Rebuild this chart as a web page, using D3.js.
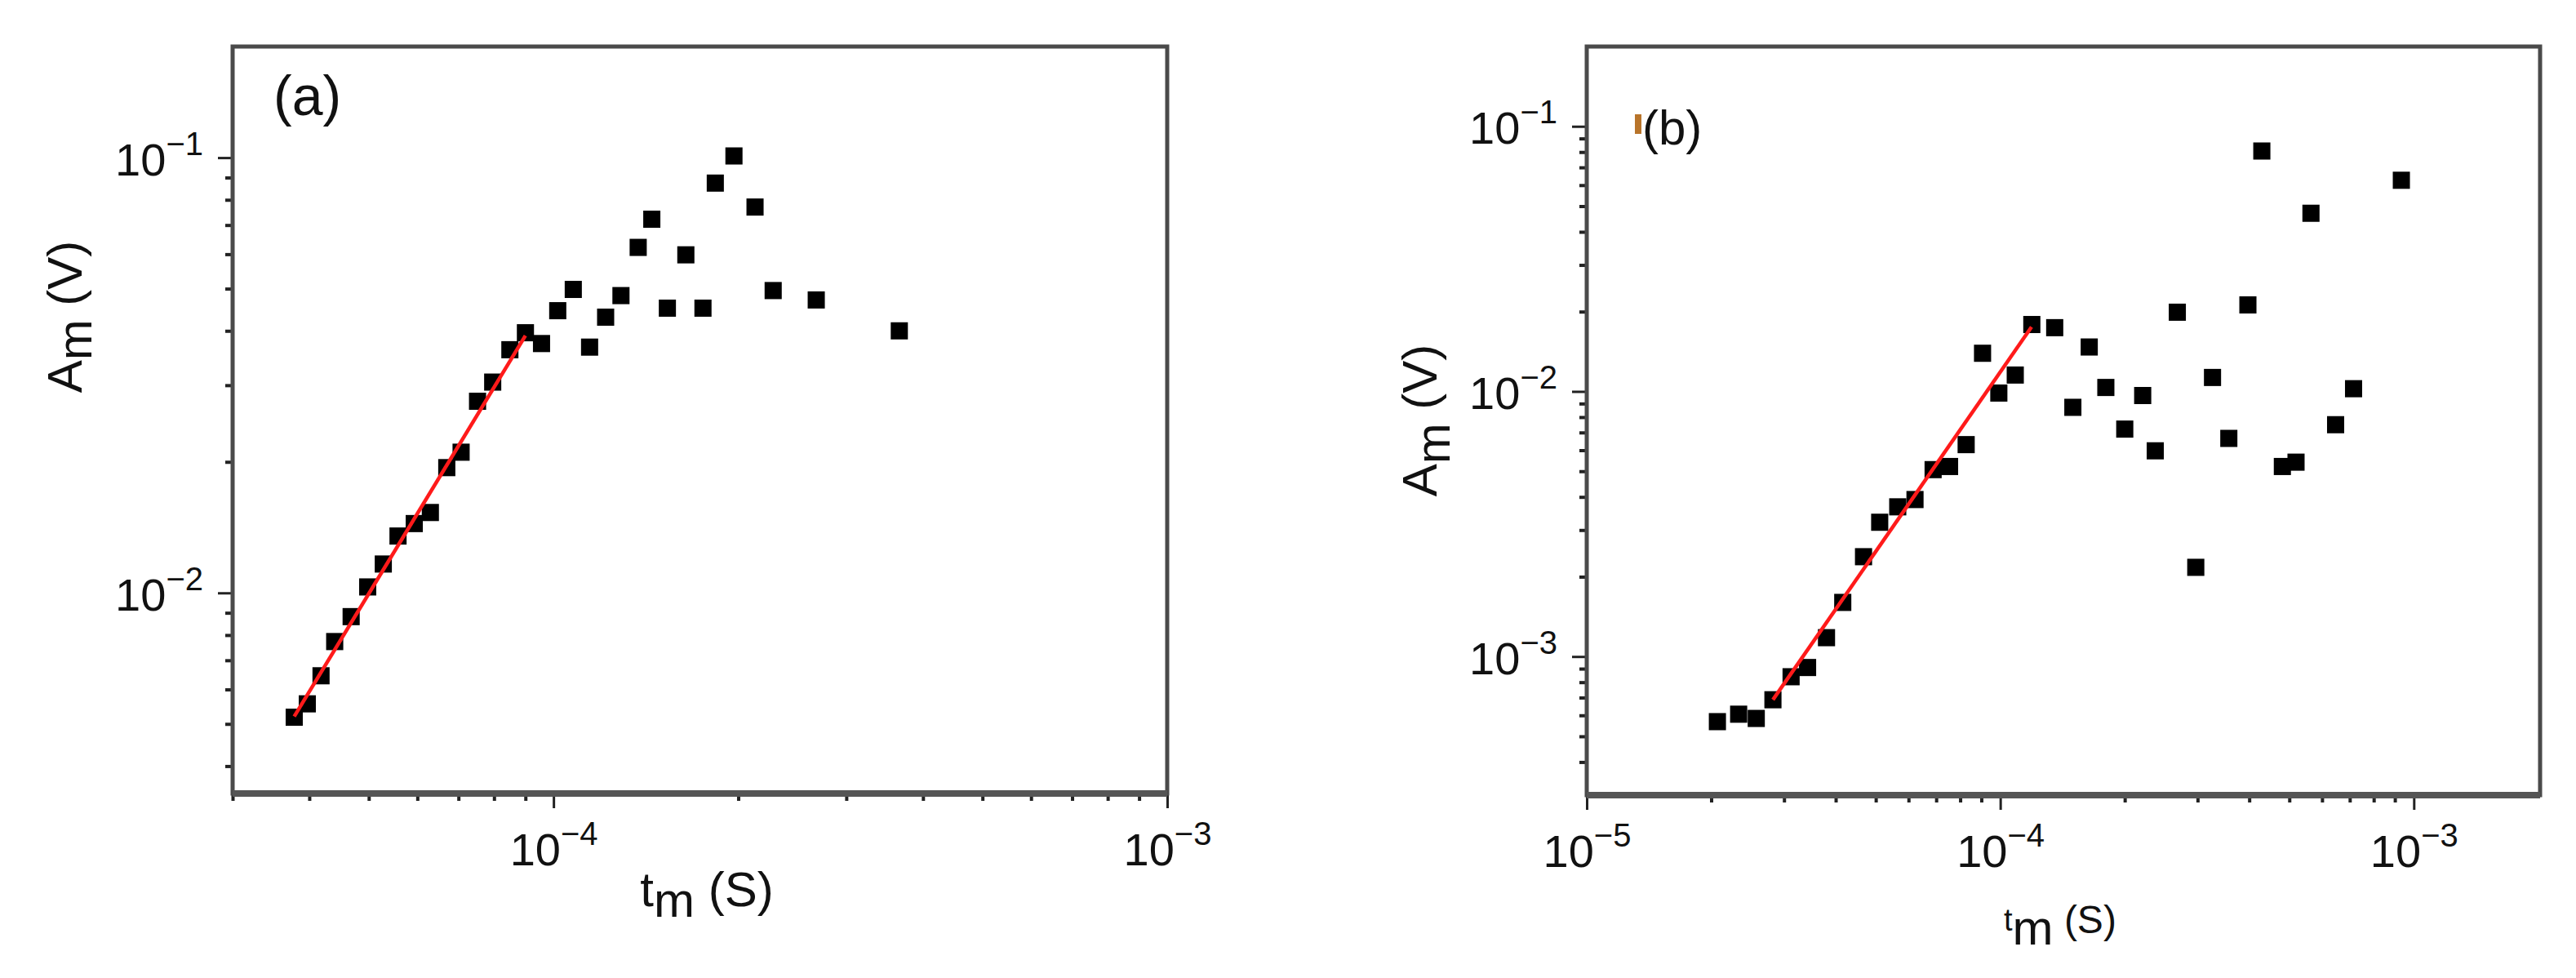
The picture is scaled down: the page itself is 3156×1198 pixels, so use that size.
<!DOCTYPE html>
<html>
<head>
<meta charset="utf-8">
<script src="https://cdn.jsdelivr.net/npm/d3@7"></script>
<style>
	body { margin: 0; background: #fff; }
	svg { display: block; }
	text { font-family: "Liberation Sans", Arial, sans-serif; fill: #111; }
</style>
</head>
<body>
<svg id="chart" width="3156" height="1198"></svg>
<script>
// panel (a)
const tmA = [3.78e-5, 3.97e-5, 4.18e-5, 4.40e-5, 4.68e-5, 4.98e-5, 5.28e-5, 5.58e-5, 5.93e-5, 6.30e-5, 6.70e-5,
	7.07e-5, 7.52e-5, 7.96e-5, 8.49e-5, 9.00e-5, 9.56e-5, 1.016e-4, 1.077e-4, 1.145e-4, 1.216e-4, 1.288e-4,
	1.374e-4, 1.446e-4, 1.533e-4, 1.643e-4, 1.752e-4, 1.835e-4, 1.968e-4, 2.13e-4, 2.28e-4, 2.68e-4, 3.66e-4];
const amA = [5.18e-3, 5.56e-3, 6.45e-3, 7.73e-3, 8.82e-3, 1.032e-2, 1.165e-2, 1.351e-2, 1.443e-2, 1.53e-2, 1.94e-2,
	2.105e-2, 2.756e-2, 3.05e-2, 3.62e-2, 3.96e-2, 3.74e-2, 4.45e-2, 4.98e-2, 3.67e-2, 4.3e-2, 4.82e-2,
	6.22e-2, 7.22e-2, 4.51e-2, 5.98e-2, 4.51e-2, 8.74e-2, 0.1009, 7.7e-2, 4.95e-2, 4.71e-2, 4.0e-2];
const fitTmA = [3.78e-5, 9.0e-5];
const fitAmA = [5.2e-3, 3.9e-2];

// panel (b)
const tmB = [2.07e-5, 2.33e-5, 2.57e-5, 2.82e-5, 3.12e-5, 3.42e-5, 3.80e-5, 4.16e-5, 4.67e-5, 5.11e-5, 5.65e-5,
	6.22e-5, 6.88e-5, 7.54e-5, 8.27e-5, 9.06e-5, 9.92e-5, 1.087e-4, 1.192e-4, 1.354e-4, 1.498e-4, 1.641e-4,
	1.80e-4, 2.00e-4, 2.21e-4, 2.37e-4, 2.68e-4, 2.97e-4, 3.26e-4, 3.57e-4, 3.97e-4, 4.29e-4, 4.81e-4,
	5.19e-4, 5.64e-4, 6.47e-4, 7.15e-4, 9.33e-4];
const amB = [5.68e-4, 6.06e-4, 5.84e-4, 6.87e-4, 8.39e-4, 9.09e-4, 1.178e-3, 1.6e-3, 2.38e-3, 3.21e-3, 3.67e-3,
	3.91e-3, 5.07e-3, 5.21e-3, 6.3e-3, 1.393e-2, 9.86e-3, 1.153e-2, 1.788e-2, 1.74e-2, 8.71e-3, 1.471e-2,
	1.035e-2, 7.21e-3, 9.65e-3, 5.97e-3, 1.99e-2, 2.17e-3, 1.129e-2, 6.65e-3, 2.12e-2, 8.07e-2, 5.21e-3,
	5.41e-3, 4.7e-2, 7.49e-3, 1.024e-2, 6.26e-2];
const fitTmB = [2.82e-5, 1.19e-4];
const fitAmB = [6.87e-4, 1.75e-2];

// ticks
const xMajorA = [1e-4, 1e-3];
const xLabelsA = ["\u22124", "\u22123"];
const xMinorA = [3e-5, 4e-5, 5e-5, 6e-5, 7e-5, 8e-5, 9e-5, 2e-4, 3e-4, 4e-4, 5e-4, 6e-4, 7e-4, 8e-4, 9e-4];
const yMajorA = [1e-2, 1e-1];
const yLabelsA = ["\u22122", "\u22121"];
const yMinorA = [4e-3, 5e-3, 6e-3, 7e-3, 8e-3, 9e-3, 2e-2, 3e-2, 4e-2, 5e-2, 6e-2, 7e-2, 8e-2, 9e-2];

const xMajorB = [1e-5, 1e-4, 1e-3];
const xLabelsB = ["\u22125", "\u22124", "\u22123"];
const xMinorB = [2e-5, 3e-5, 4e-5, 5e-5, 6e-5, 7e-5, 8e-5, 9e-5, 2e-4, 3e-4, 4e-4, 5e-4, 6e-4, 7e-4, 8e-4, 9e-4];
const yMajorB = [1e-3, 1e-2, 1e-1];
const yLabelsB = ["\u22123", "\u22122", "\u22121"];
const yMinorB = [4e-4, 5e-4, 6e-4, 7e-4, 8e-4, 9e-4, 2e-3, 3e-3, 4e-3, 5e-3, 6e-3, 7e-3, 8e-3, 9e-3,
	2e-2, 3e-2, 4e-2, 5e-2, 6e-2, 7e-2, 8e-2, 9e-2];

const svg = d3.select("#chart");
const markerSize = 21;

function powLabels(sel, labels, ticks) {
	sel.each(function (d) {
		let t = d3.select(this);
		t.text(null);
		t.append("tspan").text("10");
		t.append("tspan")
			.attr("font-size", 40)
			.attr("dy", -25)
			.text(labels[ticks.indexOf(d)]);
	});
}

function drawPanel(p) {
	const x = d3.scaleLog().domain(p.xDomain).range([p.left, p.right]);
	const y = d3.scaleLog().domain(p.yDomain).range([p.bottom, p.top]);
	const g = svg.append("g");

	// minor ticks
	g.append("g")
		.attr("transform", `translate(0,${p.bottom})`)
		.call(d3.axisBottom(x).tickValues(p.xMinor).tickSize(9).tickFormat(""))
		.call((a) => a.select(".domain").remove())
		.selectAll("line").attr("stroke", "#222").attr("stroke-width", 4);
	g.append("g")
		.attr("transform", `translate(${p.left},0)`)
		.call(d3.axisLeft(y).tickValues(p.yMinor).tickSize(9).tickFormat(""))
		.call((a) => a.select(".domain").remove())
		.selectAll("line").attr("stroke", "#222").attr("stroke-width", 4);

	// major ticks and labels
	let xa = g.append("g")
		.attr("transform", `translate(0,${p.bottom})`)
		.call(d3.axisBottom(x).tickValues(p.xMajor).tickSize(18).tickFormat(""));
	xa.select(".domain").remove();
	xa.selectAll("line").attr("stroke", "#222").attr("stroke-width", 3);
	xa.selectAll(".tick text")
		.attr("y", 88).attr("dy", null)
		.attr("font-size", 56).attr("fill", "#111")
		.attr("font-family", "Liberation Sans, Arial, sans-serif")
		.attr("text-anchor", "middle")
		.call(powLabels, p.xLabels, p.xMajor);

	let ya = g.append("g")
		.attr("transform", `translate(${p.left},0)`)
		.call(d3.axisLeft(y).tickValues(p.yMajor).tickSize(18).tickFormat(""));
	ya.select(".domain").remove();
	ya.selectAll("line").attr("stroke", "#222").attr("stroke-width", 3);
	ya.selectAll(".tick text")
		.attr("x", -36).attr("y", 21).attr("dy", null)
		.attr("font-size", 56).attr("fill", "#111")
		.attr("font-family", "Liberation Sans, Arial, sans-serif")
		.attr("text-anchor", "end")
		.call(powLabels, p.yLabels, p.yMajor);

	// frame
	g.append("rect")
		.attr("x", p.left).attr("y", p.top)
		.attr("width", p.right - p.left).attr("height", p.bottom - p.top)
		.attr("fill", "none").attr("stroke", "#4a4a4a").attr("stroke-width", 5);
	g.append("line")
		.attr("x1", p.left).attr("x2", p.right)
		.attr("y1", p.bottom).attr("y2", p.bottom)
		.attr("stroke", "#555").attr("stroke-width", 8);

	// points
	g.append("g")
		.selectAll("rect")
		.data(d3.zip(p.tm, p.am))
		.enter()
		.append("rect")
		.attr("x", (d) => x(d[0]) - markerSize / 2)
		.attr("y", (d) => y(d[1]) - markerSize / 2)
		.attr("width", markerSize)
		.attr("height", markerSize)
		.attr("fill", "#000");

	// fit line
	g.append("path")
		.datum(d3.zip(p.fitTm, p.fitAm))
		.attr("fill", "none")
		.attr("stroke", "#ff1a1a")
		.attr("stroke-width", 4.5)
		.attr("d", d3.line().x((d) => x(d[0])).y((d) => y(d[1])));

	return g;
}

const gA = drawPanel({
	left: 285, right: 1430, top: 57, bottom: 972,
	xDomain: [3e-5, 1e-3], yDomain: [3.46e-3, 0.18],
	xMajor: xMajorA, xLabels: xLabelsA, xMinor: xMinorA,
	yMajor: yMajorA, yLabels: yLabelsA, yMinor: yMinorA,
	tm: tmA, am: amA, fitTm: fitTmA, fitAm: fitAmA,
});

const gB = drawPanel({
	left: 1944, right: 3112, top: 57, bottom: 974,
	xDomain: [1e-5, 2.02e-3], yDomain: [3e-4, 0.2],
	xMajor: xMajorB, xLabels: xLabelsB, xMinor: xMinorB,
	yMajor: yMajorB, yLabels: yLabelsB, yMinor: yMinorB,
	tm: tmB, am: amB, fitTm: fitTmB, fitAm: fitAmB,
});

// panel (a) texts
gA.append("text").attr("x", 335).attr("y", 141).attr("font-size", 68).text("(a)");

let xtA = gA.append("text").attr("x", 866).attr("y", 1110).attr("font-size", 60).attr("text-anchor", "middle");
xtA.append("tspan").text("t");
xtA.append("tspan").attr("dy", 13).text("m");
xtA.append("tspan").attr("dy", -13).text(" (S)");

let ytA = gA.append("text")
	.attr("transform", "translate(100,388) rotate(-90)")
	.attr("font-size", 60).attr("text-anchor", "middle");
ytA.append("tspan").text("A");
ytA.append("tspan").attr("dy", 12).text("m");
ytA.append("tspan").attr("dy", -12).text(" (V)");

// panel (b) texts
gB.append("rect").attr("x", 2003).attr("y", 140).attr("width", 8).attr("height", 24).attr("fill", "#b8742a");
gB.append("text").attr("x", 2012).attr("y", 177).attr("font-size", 60).text("(b)");

let xtB = gB.append("text").attr("x", 2455).attr("y", 1157).attr("font-size", 60);
xtB.append("tspan").attr("font-size", 38).attr("dy", -17).text("t");
xtB.append("tspan").attr("dy", 17).text("m");
xtB.append("tspan").attr("font-size", 48).attr("dy", -14).text(" (S)");

let ytB = gB.append("text")
	.attr("transform", "translate(1760,515) rotate(-90)")
	.attr("font-size", 60).attr("text-anchor", "middle");
ytB.append("tspan").text("A");
ytB.append("tspan").attr("dy", 16).text("m");
ytB.append("tspan").attr("dy", -16).text(" (V)");
</script>
</body>
</html>
